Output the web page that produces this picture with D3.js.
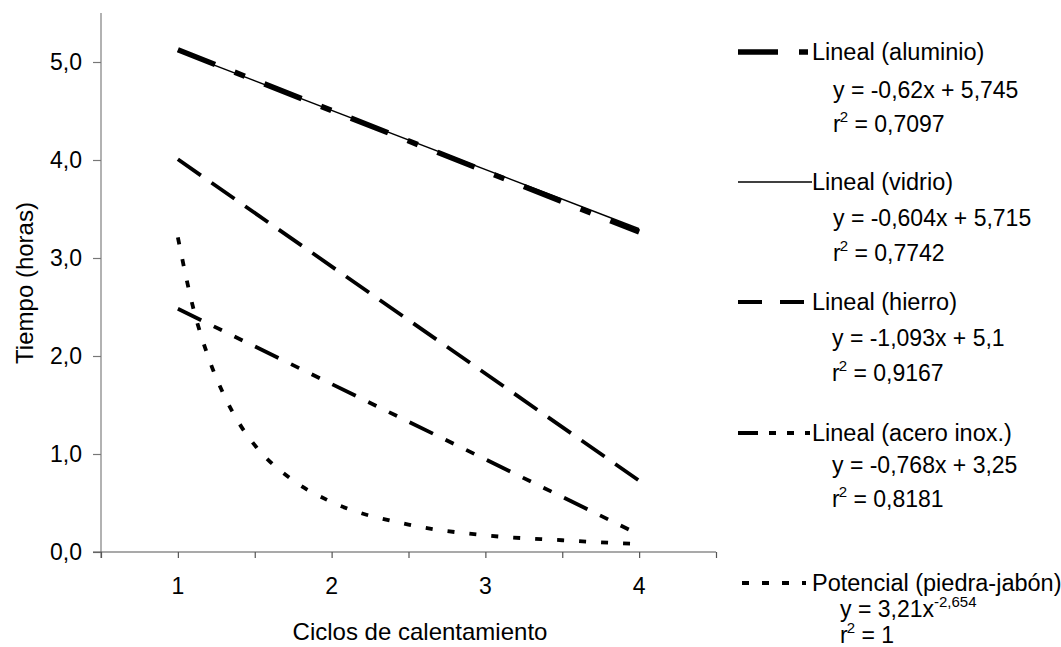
<!DOCTYPE html>
<html>
<head>
<meta charset="utf-8">
<script src="https://cdn.jsdelivr.net/npm/d3@7"></script>
<style>
  html, body { margin: 0; padding: 0; background: #fff; }
  svg { display: block; }
  text { font-family: "Liberation Sans", Arial, sans-serif; fill: #000; }
</style>
</head>
<body>
<svg id="chart" width="1061" height="647"></svg>
<script>
// ---------- data ----------
const cycles = [1, 4];                       // trend lines drawn from cycle 1 to 4
const aluminio = [5.125, 3.265];
const vidrio = [5.111, 3.299];
const hierro = [4.007, 0.728];
const aceroInox = [2.482, 0.178];
const piedraX = [1, 1.1, 1.2, 1.3, 1.4, 1.5, 1.75, 2, 2.5, 3, 3.5, 4];
const piedraY = [3.21, 2.49, 1.98, 1.60, 1.31, 1.09, 0.73, 0.51, 0.28, 0.17, 0.12, 0.08];
const yTicks = [0, 1, 2, 3, 4, 5];
const yTickLabels = ["0,0", "1,0", "2,0", "3,0", "4,0", "5,0"];
const xTicks = [0.5, 1, 1.5, 2, 2.5, 3, 3.5, 4, 4.5];
const xTickLabels = ["1", "2", "3", "4"];
const xLabelValues = [1, 2, 3, 4];
const legendNames = ["Lineal (aluminio)", "Lineal (vidrio)", "Lineal (hierro)", "Lineal (acero inox.)", "Potencial (piedra-jabón)"];
const legendEq = ["y = -0,62x + 5,745", "y = -0,604x + 5,715", "y = -1,093x + 5,1", "y = -0,768x + 3,25", "y = 3,21x"];
const legendEqSup = ["", "", "", "", "-2,654"];
const legendR2 = ["0,7097", "0,7742", "0,9167", "0,8181", "1"];

// ---------- layout ----------
const svg = d3.select("#chart");
const X0 = 101, X1 = 716, Y0 = 552, Y1 = 13;
const x = d3.scaleLinear().domain([0.5, 4.5]).range([X0, X1]);
const y = d3.scaleLinear().domain([0, 5.5]).range([Y0, Y1]);
const FS = 23;

// y axis
const yAxis = svg.append("g").attr("transform", `translate(${X0},0)`)
  .call(d3.axisLeft(y).tickValues(yTicks).tickSize(8).tickPadding(11)
    .tickFormat((d, i) => yTickLabels[i]));
yAxis.select(".domain").attr("stroke", "#999").attr("stroke-width", 1.5)
  .attr("d", `M0,${Y1}V${Y0 + 6}`);
yAxis.selectAll(".tick line").attr("stroke", "#777").attr("stroke-width", 1.2);
yAxis.selectAll(".tick text").attr("font-size", FS).attr("font-family", "Liberation Sans, Arial, sans-serif").attr("fill", "#000");

// x axis
const xAxis = svg.append("g").attr("transform", `translate(0,${Y0})`)
  .call(d3.axisBottom(x).tickValues(xTicks).tickSize(6).tickFormat(""));
xAxis.select(".domain").attr("stroke", "#555").attr("stroke-width", 1.2)
  .attr("d", `M${X0 - 8},0H${X1}`);
xAxis.selectAll(".tick line").attr("stroke", "#555").attr("stroke-width", 1.2);
svg.append("g").selectAll("text").data(xLabelValues).join("text")
  .attr("x", d => x(d)).attr("y", Y0 + 42)
  .attr("text-anchor", "middle").attr("font-size", FS)
  .text((d, i) => xTickLabels[i]);

// axis titles
svg.append("text").attr("x", 420).attr("y", 640).attr("text-anchor", "middle")
  .attr("font-size", 24).text("Ciclos de calentamiento");
svg.append("text").attr("transform", "translate(33,283) rotate(-90)")
  .attr("text-anchor", "middle").attr("font-size", 24).text("Tiempo (horas)");

// ---------- series ----------
const line = d3.line().x(d => x(d[0])).y(d => y(d[1]));
const curve = d3.line().curve(d3.curveMonotoneX).x(d => x(d[0])).y(d => y(d[1]));
const g = svg.append("g").attr("fill", "none").attr("stroke", "#000").attr("stroke-linecap", "butt");

const styles = {
  aluminio: { w: 5.5, dash: "40,21,11,21" },
  vidrio: { w: 1.5, dash: null },
  hierro: { w: 3.8, dash: "28,13" },
  acero: { w: 3.8, dash: "26,14,9,14,9,14" },
  piedra: { w: 3.8, dash: "7,15" }
};

function draw(pts, st, gen) {
  const p = g.append("path").attr("d", gen(pts)).attr("stroke-width", st.w);
  if (st.dash) p.attr("stroke-dasharray", st.dash);
}
draw(cycles.map((c, i) => [c, aluminio[i]]), styles.aluminio, line);
draw(cycles.map((c, i) => [c, vidrio[i]]), styles.vidrio, line);
draw(cycles.map((c, i) => [c, hierro[i]]), styles.hierro, line);
draw(cycles.map((c, i) => [c, aceroInox[i]]), styles.acero, line);
draw(piedraX.map((c, i) => [c, piedraY[i]]), styles.piedra, curve);

// ---------- legend ----------
const legendStyles = [
  { w: 5.5, dash: "40,21,11,21", x0: 738, x1: 808 },
  { w: 1.5, dash: null, x0: 738, x1: 812 },
  { w: 3.8, dash: "24,18", x0: 738, x1: 808 },
  { w: 3.8, dash: "20,11,7,11,7,11", x0: 738, x1: 810 },
  { w: 3.8, dash: "7,13", x0: 742, x1: 806 }
];
const labelBase = [60, 190, 310, 441, 591];
const eqBase = [98, 226, 346, 473, 617];
const r2Base = [132, 261, 381, 507, 643];
const eqX = [833, 833, 832, 832, 840];
const LX = 812;
const leg = svg.append("g");
legendNames.forEach((name, i) => {
  const st = legendStyles[i];
  const ly = labelBase[i] - 8;
  const p = leg.append("line").attr("x1", st.x0).attr("x2", st.x1)
    .attr("y1", ly).attr("y2", ly).attr("stroke", "#000").attr("stroke-width", st.w);
  if (st.dash) p.attr("stroke-dasharray", st.dash);
  leg.append("text").attr("x", LX).attr("y", labelBase[i]).attr("font-size", 23.5).text(name);
  const eq = leg.append("text").attr("x", eqX[i]).attr("y", eqBase[i]).attr("font-size", FS);
  eq.append("tspan").text(legendEq[i]);
  if (legendEqSup[i]) eq.append("tspan").attr("font-size", 15).attr("dy", -10).text(legendEqSup[i]);
  const r2 = leg.append("text").attr("x", eqX[i]).attr("y", r2Base[i]).attr("font-size", FS);
  r2.append("tspan").text("r");
  r2.append("tspan").attr("font-size", 15).attr("dy", -10).attr("dx", -1).text("2");
  r2.append("tspan").attr("dy", 10).text(" = " + legendR2[i]);
});
</script>
</body>
</html>
